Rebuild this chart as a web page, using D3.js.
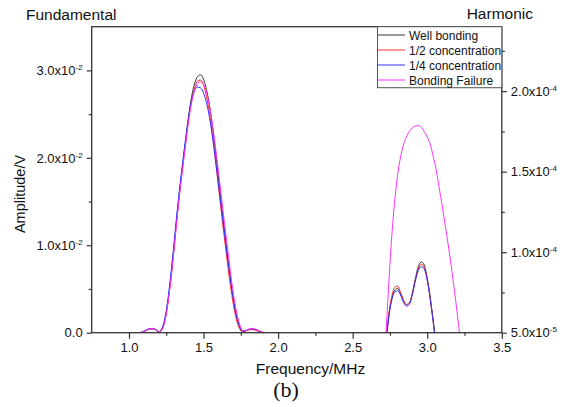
<!DOCTYPE html>
<html lang="en">
<head>
<meta charset="utf-8">
<title>Fundamental and harmonic amplitude</title>
<script src="https://cdn.jsdelivr.net/npm/d3@7/dist/d3.min.js"></script>
<style>
  body { margin: 0; background: #fff; }
  text { font-family: "Liberation Sans", Arial, sans-serif; }
</style>
</head>
<body>
<script>
// series names and colours
var seriesNames = ["Well bonding", "1/2 concentration", "1/4 concentration", "Bonding Failure"];
var seriesColors = ["#333333", "#ff3030", "#3030ff", "#ff30ff"];

// fundamental band (left axis, values x1e-2 V)
var fundFreq = [1.06,1.08,1.10,1.12,1.14,1.16,1.18,1.20,1.22,1.24,1.26,1.28,1.30,1.32,1.34,1.36,1.38,1.40,1.42,1.44,
  1.46,1.48,1.50,1.52,1.54,1.56,1.58,1.60,1.62,1.64,1.66,1.68,1.70,1.72,1.74,1.76,1.78,1.80,1.82,1.84,1.86,1.88,1.90,1.92];
var fundWell = [0,0,0.012,0.03,0.042,0.045,0.032,0.01,0.035,0.14,0.34,0.62,0.95,1.3,1.63,1.92,2.2,2.48,2.7,2.85,
  2.93,2.95,2.9,2.78,2.6,2.36,2.08,1.78,1.48,1.18,0.9,0.62,0.38,0.19,0.07,0.015,0.02,0.032,0.038,0.035,0.024,0.01,0.002,0];
var fundHalf = [0,0.002,0.014,0.03,0.04,0.042,0.03,0.008,0.03,0.13,0.33,0.6,0.93,1.28,1.61,1.9,2.18,2.45,2.66,2.8,
  2.88,2.89,2.83,2.7,2.51,2.26,1.97,1.67,1.37,1.08,0.8,0.54,0.32,0.15,0.05,0.01,0.018,0.03,0.036,0.033,0.022,0.008,0,0];
var fundQuarter = [0,0.004,0.018,0.036,0.048,0.05,0.036,0.012,0.045,0.16,0.37,0.66,0.99,1.34,1.66,1.95,2.22,2.47,2.66,2.77,
  2.81,2.8,2.74,2.63,2.46,2.24,1.98,1.7,1.42,1.14,0.87,0.61,0.38,0.2,0.08,0.02,0.022,0.036,0.044,0.042,0.03,0.014,0.003,0];
var fundFail = [0,0.002,0.014,0.032,0.044,0.046,0.034,0.01,0.032,0.13,0.32,0.59,0.91,1.26,1.59,1.88,2.15,2.42,2.63,2.77,
  2.85,2.87,2.84,2.75,2.59,2.38,2.12,1.84,1.55,1.26,0.98,0.7,0.45,0.25,0.11,0.03,0.022,0.038,0.046,0.044,0.032,0.016,0.004,0];

// harmonic band (right axis, values x1e-5 V)
var harmFreq = [2.70,2.72,2.74,2.76,2.78,2.80,2.82,2.84,2.86,2.88,2.90,2.92,2.94,2.96,2.98,3.00,3.02,3.04,3.06,3.08];
var harmWell = [2.0,4.0,5.9,7.0,7.6,7.75,7.45,7.0,6.75,6.85,7.45,8.35,9.1,9.4,9.2,8.4,7.2,5.75,4.2,2.8];
var harmHalf = [2.1,4.1,6.0,7.15,7.8,7.9,7.55,7.05,6.75,6.85,7.4,8.25,8.95,9.25,9.05,8.3,7.1,5.65,4.1,2.7];
var harmQuarter = [2.0,3.9,5.8,6.95,7.5,7.6,7.35,6.9,6.65,6.75,7.35,8.2,8.85,9.1,8.95,8.25,7.1,5.7,4.2,2.8];
var harmFailFreq = [2.70,2.72,2.74,2.76,2.78,2.80,2.82,2.84,2.86,2.88,2.90,2.92,2.94,2.96,2.98,3.00,3.02,3.04,
  3.06,3.08,3.10,3.12,3.14,3.16,3.18,3.20,3.22,3.24];
var harmFail = [1.0,4.3,7.7,10.7,13.0,14.7,15.85,16.65,17.15,17.5,17.72,17.84,17.86,17.75,17.5,17.15,16.7,15.95,
  15.1,14.0,12.9,11.7,10.5,9.2,7.8,6.3,4.7,3.2];

// ticks
var xTicks = [1.0,1.5,2.0,2.5,3.0,3.5];
var xMinor = [1.25,1.75,2.25,2.75,3.25];
var leftTicks = [0,0.01,0.02,0.03];
var leftMinor = [0.005,0.015,0.025];
var leftMant = ["0.0","1.0","2.0","3.0"];
var leftExp = [null,"-2","-2","-2"];
var rightTicks = [5e-5,1e-4,1.5e-4,2e-4];
var rightMinor = [7.5e-5,1.25e-4,1.75e-4,2.25e-4];
var rightMant = ["5.0","1.0","1.5","2.0"];
var rightExp = ["-5","-4","-4","-4"];

var w = 570, h = 407;
var pL = 91.7, pR = 501.8, pT = 26.7, pB = 332.7;

var svg = d3.select("body").append("svg")
  .attr("width", w)
  .attr("height", h);

var x = d3.scaleLinear().domain([0.75, 3.5]).range([pL, pR]);
var yL = d3.scaleLinear().domain([0, 0.035]).range([pB, pT]);
var yR = d3.scaleLinear().domain([5e-5, 2.4e-4]).range([pB, pT]);

svg.append("clipPath").attr("id", "plot")
  .append("rect")
  .attr("x", pL).attr("y", pT)
  .attr("width", pR - pL).attr("height", pB - pT);

// curves
var lineL = d3.line()
  .x(function(d) { return x(d[0]); })
  .y(function(d) { return yL(d[1] * 1e-2); })
  .curve(d3.curveMonotoneX);
var lineR = d3.line()
  .x(function(d) { return x(d[0]); })
  .y(function(d) { return yR(d[1] * 1e-5); })
  .curve(d3.curveMonotoneX);

var fundSets = [fundWell, fundHalf, fundQuarter, fundFail];
var harmSets = [[harmFreq, harmWell], [harmFreq, harmHalf], [harmFreq, harmQuarter], [harmFailFreq, harmFail]];

var curves = svg.append("g").attr("clip-path", "url(#plot)");
fundSets.forEach(function(vals, i) {
  curves.append("path")
    .attr("d", lineL(d3.zip(fundFreq, vals)))
    .attr("fill", "none")
    .attr("stroke", seriesColors[i])
    .attr("stroke-width", 1);
});
harmSets.forEach(function(s, i) {
  curves.append("path")
    .attr("d", lineR(d3.zip(s[0], s[1])))
    .attr("fill", "none")
    .attr("stroke", seriesColors[i])
    .attr("stroke-width", 1);
});

// frame
svg.append("rect")
  .attr("x", pL).attr("y", pT)
  .attr("width", pR - pL).attr("height", pB - pT)
  .attr("fill", "none")
  .attr("stroke", "#333")
  .attr("stroke-width", 1.3);

function styleAxis(g) {
  g.select(".domain").remove();
  g.selectAll("line").attr("stroke", "#333").attr("stroke-width", 1.2);
  g.selectAll("text").attr("fill", "#111").attr("font-size", "13px")
    .attr("font-family", "'Liberation Sans', Arial, sans-serif");
}

// x axis
svg.append("g")
  .attr("transform", "translate(0," + pB + ")")
  .call(d3.axisBottom(x).tickValues(xTicks).tickSize(6).tickPadding(4).tickFormat(d3.format(".1f")))
  .call(styleAxis);
svg.append("g")
  .attr("transform", "translate(0," + pB + ")")
  .call(d3.axisBottom(x).tickValues(xMinor).tickSize(3).tickFormat(""))
  .call(styleAxis);

// scientific labels with superscript exponent
function sciLabels(g, mant, exps) {
  g.selectAll(".tick text").each(function(d, i) {
    var t = d3.select(this).text("");
    if (exps[i] === null) {
      t.append("tspan").text(mant[i]);
      return;
    }
    t.append("tspan").text(mant[i] + "x10");
    t.append("tspan").text(exps[i]).attr("font-size", "8px").attr("dy", "-5");
  });
}

// left axis
svg.append("g")
  .attr("transform", "translate(" + pL + ",0)")
  .call(d3.axisLeft(yL).tickValues(leftTicks).tickSize(5).tickPadding(4))
  .call(styleAxis)
  .call(sciLabels, leftMant, leftExp);
svg.append("g")
  .attr("transform", "translate(" + pL + ",0)")
  .call(d3.axisLeft(yL).tickValues(leftMinor).tickSize(3).tickFormat(""))
  .call(styleAxis);

// right axis
svg.append("g")
  .attr("transform", "translate(" + pR + ",0)")
  .call(d3.axisRight(yR).tickValues(rightTicks).tickSize(5).tickPadding(4))
  .call(styleAxis)
  .call(sciLabels, rightMant, rightExp);
svg.append("g")
  .attr("transform", "translate(" + pR + ",0)")
  .call(d3.axisRight(yR).tickValues(rightMinor).tickSize(3).tickFormat(""))
  .call(styleAxis);

// titles
svg.append("text").attr("x", 26).attr("y", 19.5)
  .attr("font-size", "15.5px").attr("fill", "#111").text("Fundamental");
svg.append("text").attr("x", 533).attr("y", 18.5)
  .attr("text-anchor", "end")
  .attr("font-size", "15.5px").attr("fill", "#111").text("Harmonic");
svg.append("text")
  .attr("transform", "translate(25,194) rotate(-90)")
  .attr("text-anchor", "middle")
  .attr("font-size", "14.5px").attr("fill", "#111").text("Amplitude/V");
svg.append("text").attr("x", 310.5).attr("y", 373.5)
  .attr("text-anchor", "middle")
  .attr("font-size", "15.5px").attr("fill", "#111").text("Frequency/MHz");
svg.append("text").attr("x", 286).attr("y", 397)
  .attr("text-anchor", "middle")
  .style("font-family", "'Liberation Serif', 'Times New Roman', serif")
  .attr("font-size", "22px").attr("fill", "#111").text("(b)");

// legend
var lg = svg.append("g");
lg.append("rect")
  .attr("x", 377.5).attr("y", pT)
  .attr("width", pR - 377.5).attr("height", 87.7 - pT)
  .attr("fill", "#fff")
  .attr("stroke", "#555")
  .attr("stroke-width", 1);
seriesNames.forEach(function(name, i) {
  var yy = 35 + i * 15;
  lg.append("line")
    .attr("x1", 378).attr("x2", 405)
    .attr("y1", yy).attr("y2", yy)
    .attr("stroke", seriesColors[i]).attr("stroke-width", 1);
  lg.append("text")
    .attr("x", 409).attr("y", yy + 4.5)
    .attr("font-size", "12px").attr("fill", "#111")
    .text(name);
});
</script>
</body>
</html>
